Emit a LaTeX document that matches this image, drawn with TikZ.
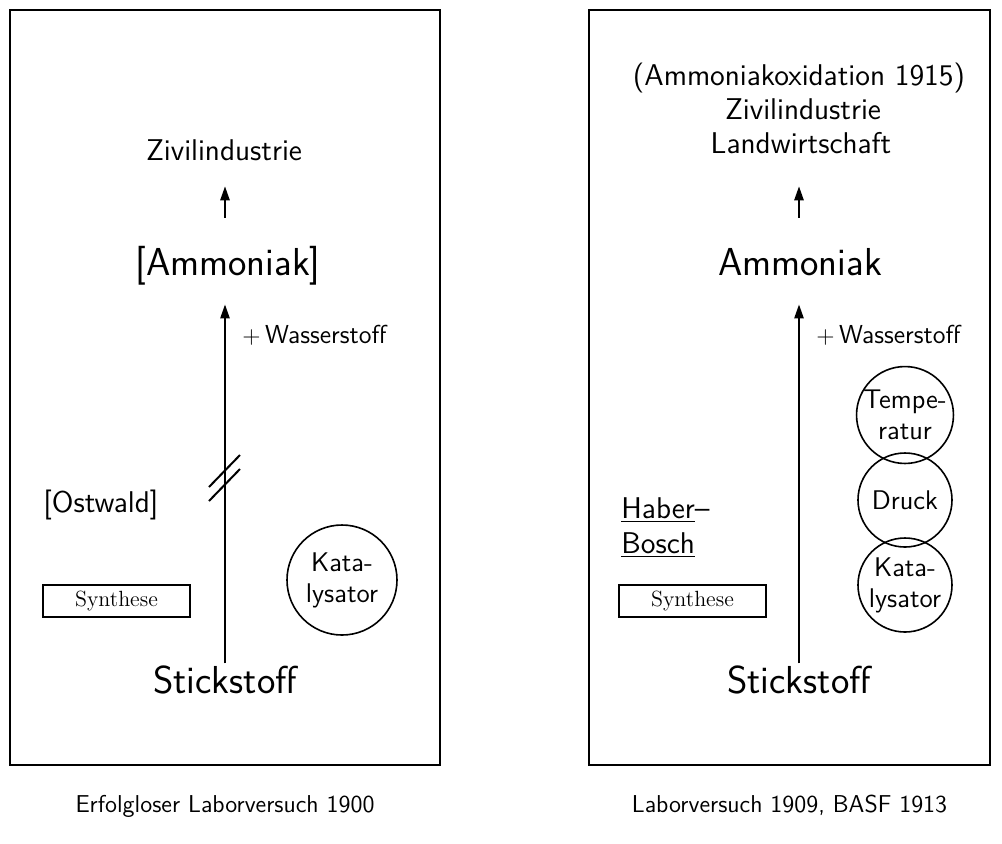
\documentclass[tikz,border=0pt]{standalone}
\usepackage{fontspec}
\usetikzlibrary{arrows.meta}
\tikzset{
  frame/.style={line width=0.8pt},
  arr/.style={line width=1pt, -{Triangle[length=7pt,width=4.6pt]}},
  slash/.style={line width=1pt},
  big/.style={font=\sffamily\fontsize{19.5}{23}\selectfont, inner sep=0pt,
              text height=14.6pt, text depth=4.9pt, anchor=base},
  mid/.style={font=\sffamily\fontsize{15}{18}\selectfont, inner sep=0pt,
              text height=11.25pt, text depth=3.75pt, anchor=base},
  small/.style={font=\sffamily\fontsize{13}{16}\selectfont, inner sep=0pt, anchor=base west},
  caption/.style={font=\sffamily\fontsize{12.2}{14}\selectfont, inner sep=0pt, anchor=base},
  synth/.style={draw, line width=0.8pt, font=\rmfamily\fontsize{11}{13}\selectfont,
                minimum width=73.5pt, minimum height=16pt, inner sep=0pt},
  factor/.style={draw, circle, line width=0.8pt, align=center, inner sep=0pt,
                 font=\sffamily\fontsize{13.5}{15.5}\selectfont},
}
\begin{document}
\begin{tikzpicture}[x=0.5pt,y=-0.5pt]
\useasboundingbox (0,0) rectangle (1002,843);

% frames of the two experiments
\draw[frame] (10,10) rectangle (440,765);
\draw[frame] (589,10) rectangle (990,765);

% ---- left: unsuccessful lab attempt
\node[mid] (ziL) at (224,160) {Zivilindustrie};
\node[big] (amL) at (228,275) {[Ammoniak]};
\node[big] (stL) at (225,693) {Stickstoff};
\node[small] (wsL) at (242,343) {$+$\,Wasserstoff};
\node[mid, anchor=base west] (os) at (43,512) {[Ostwald]};
\node[synth] (syL) at (116.5,601) {Synthese};
\node[factor, minimum size=55pt] (kaL) at (342,580) {Kata-\\lysator};
\node[caption] (c1) at (225,812) {Erfolgloser Laborversuch 1900};

\coordinate (axL) at (225,0);
\draw[arr, shorten >=9.6pt] (stL.north) -- (amL.south -| axL);
\draw[arr, shorten <=13.9pt, shorten >=9.2pt] (amL.north -| axL) -- (ziL.south -| axL);
% interrupted reaction
\draw[slash] (209,487) -- (240,455);
\draw[slash] (209,501) -- (240,469);

% ---- right: Haber-Bosch process
\node[mid] (oxR) at (799,85) {(Ammoniakoxidation 1915)};
\node[mid] (ziR) at (803,119) {Zivilindustrie};
\node[mid] (lwR) at (801,153) {Landwirtschaft};
\node[big] (amR) at (800,275) {Ammoniak};
\node[big] (stR) at (799,693) {Stickstoff};
\node[small] (wsR) at (816,343) {$+$\,Wasserstoff};
\node[factor, minimum size=47pt] (te) at (905,415) {Tempe-\\ratur};
\node[factor, minimum size=47pt] (dr) at (905,500) {Druck};
\node[factor, minimum size=47pt] (kaR) at (905,585) {Kata-\\lysator};
\node[mid, anchor=base west] (hab) at (621,518) {\underline{Haber}--};
\node[mid, anchor=base west] (bos) at (621,553) {\underline{Bosch}};
\node[synth] (syR) at (692.5,601) {Synthese};
\node[caption] (c2) at (789.5,812) {Laborversuch 1909, BASF 1913};

\coordinate (axR) at (799,0);
\draw[arr, shorten >=9.6pt] (stR.north) -- (amR.south -| axR);
\draw[arr, shorten <=13.9pt, shorten >=12.7pt] (amR.north -| axR) -- (lwR.south -| axR);
\end{tikzpicture}
\end{document}
